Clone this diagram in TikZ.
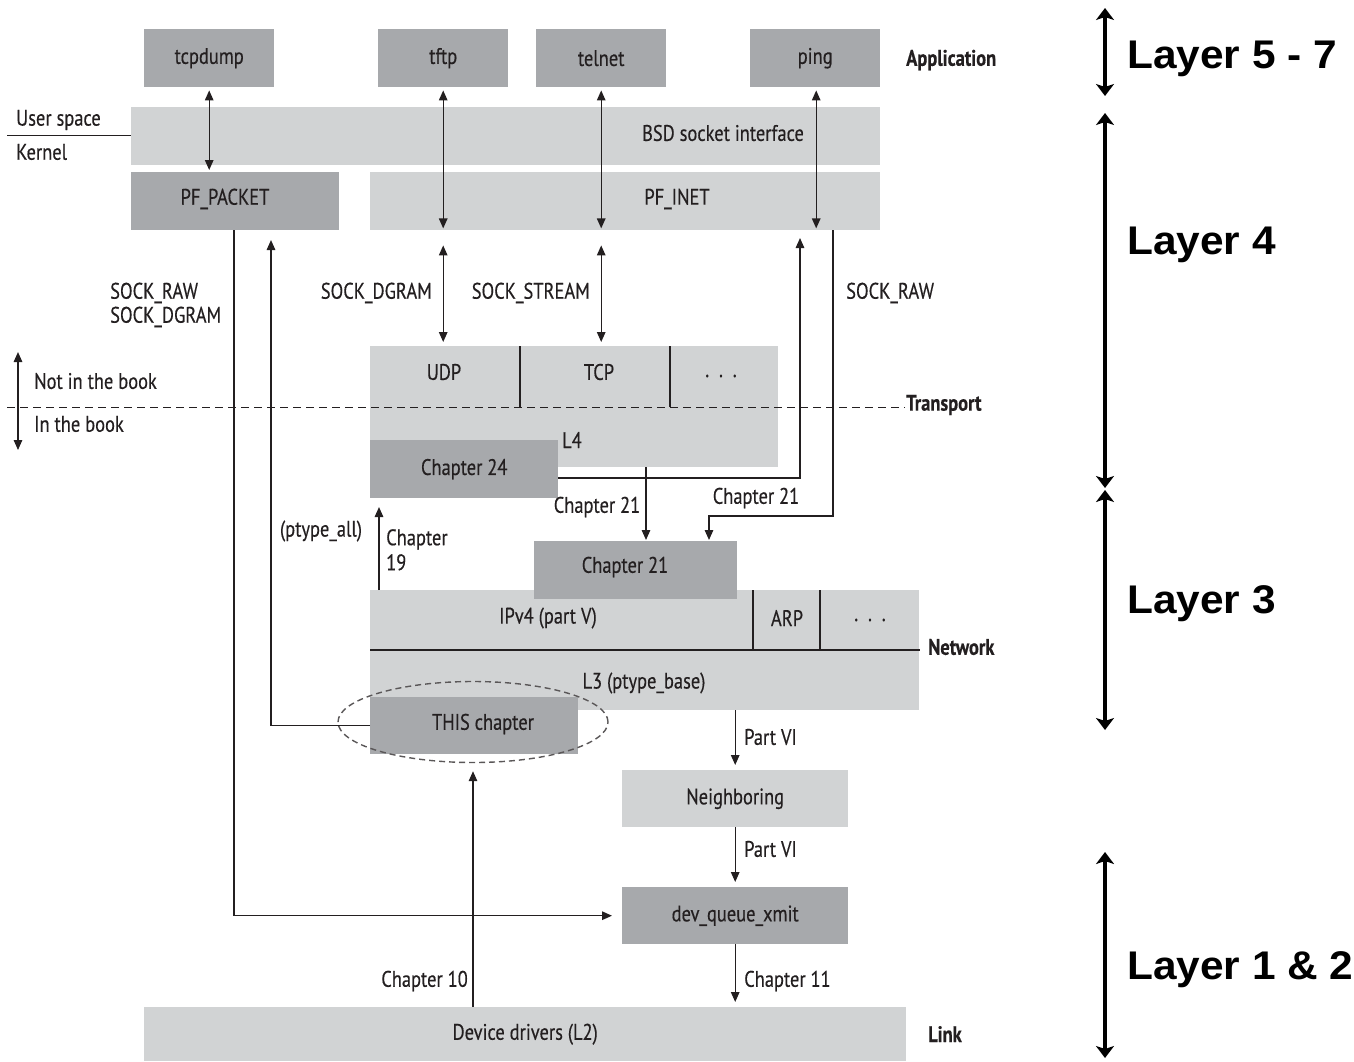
\documentclass[tikz,border=0pt]{standalone}
\usepackage{fontspec}
\setmainfont{PT Sans}[FakeStretch=0.82,FakeBold=0.35]
\newfontfamily\layerfont{Liberation Sans}[FakeStretch=1.06]
\usetikzlibrary{arrows.meta,calc,shapes.geometric}
\definecolor{dgray}{HTML}{A7A9AC}
\definecolor{lgray}{HTML}{D1D3D4}
\definecolor{tcol}{HTML}{231F20}
\tikzset{
  dbox/.style={fill=dgray, draw=none, inner sep=0pt, anchor=north west, text=tcol, font=\fontsize{22.5}{25}\selectfont},
  lbox/.style={fill=lgray, draw=none, inner sep=0pt, anchor=north west, text=tcol, font=\fontsize{22.5}{25}\selectfont},
  txt/.style={inner sep=0pt, text=tcol, font=\fontsize{22.5}{25}\selectfont},
  btxt/.style={inner sep=0pt, text=tcol, font=\fontsize{22.5}{25}\selectfont\bfseries},
  ln/.style={line width=1.4pt, draw=tcol},
  arr/.style={ln, -{Triangle[length=10pt,width=8.5pt]}},
  darr/.style={ln, {Triangle[length=10pt,width=8.5pt]}-{Triangle[length=10pt,width=8.5pt]}},
  layarr/.style={line width=4pt, draw=black, {Stealth[length=12pt,width=18pt,inset=3pt]}-{Stealth[length=12pt,width=18pt,inset=3pt]}},
  laytxt/.style={inner sep=0pt, anchor=west, font=\layerfont\bfseries\fontsize{40}{44}\selectfont}
}
\begin{document}
\begin{tikzpicture}[x=1pt,y=-1pt]
\useasboundingbox (0,0) rectangle (1354,1061);
% boxes
\node[dbox, minimum width=130pt, minimum height=58pt] (tcpdump) at (144,29) {tcpdump};
\node[dbox, minimum width=130pt, minimum height=58pt] (tftp) at (378,29) {tftp};
\node[dbox, minimum width=130pt, minimum height=58pt] (telnet) at (536,29) {telnet};
\node[dbox, minimum width=130pt, minimum height=58pt] (ping) at (750,29) {ping};
\node[lbox, minimum width=749pt, minimum height=58pt] (bsd) at (131,107) {};
\node[dbox, minimum width=208pt, minimum height=58pt] (pfpacket) at (131,172) {};
\node[lbox, minimum width=510pt, minimum height=58pt] (pfinet) at (370,172) {};
\node[lbox, minimum width=408pt, minimum height=121pt] (trans) at (370,346) {};
\node[dbox, minimum width=188pt, minimum height=58pt] (ch24) at (370,440) {Chapter 24};
\node[lbox, minimum width=549pt, minimum height=120pt] (net) at (370,590) {};
\node[dbox, minimum width=203pt, minimum height=58pt] (ch21) at (534,541) {};
\node[dbox, minimum width=208pt, minimum height=57pt] (this) at (370,697) {};
\node[lbox, minimum width=226pt, minimum height=57pt] (neigh) at (622,770) {Neighboring};
\node[dbox, minimum width=226pt, minimum height=57pt] (devq) at (622,887) {dev\_queue\_xmit};
\node[lbox, minimum width=762pt, minimum height=54pt] (devdrv) at (144,1007) {Device drivers (L2)};
% texts in boxes
\node[txt] (bsdt) at (723,133) {BSD socket interface};
\node[txt] (pfpackett) at (225,199) {PF\_PACKET};
\node[txt] (pfinett) at (677,199) {PF\_INET};
\node[txt] (udp) at (444,372) {UDP};
\node[txt] (tcp) at (599,372) {TCP};
\node[txt] (dots1) at (721,376) {.\ \ .\ \ .};
\node[txt] (l4) at (572,440) {L4};
\node[txt] (ch21t) at (625,567) {Chapter 21};
\node[txt] (ipv4) at (548,618) {IPv4 (part V)};
\node[txt] (arp) at (787,618) {ARP};
\node[txt] (dots2) at (870,620) {.\ \ .\ \ .};
\node[txt] (l3) at (644,683) {L3 (ptype\_base)};
\node[txt] (thist) at (483,724) {THIS chapter};
% dividers
\draw[ln] (520,346) -- (520,407);
\draw[ln] (670,346) -- (670,407);
\draw[ln] (753,590) -- (753,650);
\draw[ln] (820,590) -- (820,650);
\draw[ln] (370,650) -- (920,650);
% side labels
\coordinate (us) at (7,135);
\draw[ln, line width=1pt] (us) -- (us -| bsd.west);
\node[txt, anchor=west] (userspace) at (16,120) {User space};
\node[txt, anchor=west] (kernel) at (16,152) {Kernel};
\node[btxt, anchor=west] (app) at (906,60) {Application};
\node[txt, anchor=west] (sr1) at (110,293) {SOCK\_RAW};
\node[txt, anchor=west] (sd1) at (110,317) {SOCK\_DGRAM};
\node[txt, anchor=east] (sd2) at (432,293) {SOCK\_DGRAM};
\node[txt, anchor=east] (ss) at (590,293) {SOCK\_STREAM};
\node[txt, anchor=west] (sr2) at (846,293) {SOCK\_RAW};
\node[txt, anchor=west] (notbook) at (34,381) {Not in the book};
\node[txt, anchor=west] (inbook) at (34,424) {In the book};
\node[btxt, anchor=west] (transport) at (906,405) {Transport};
\node[txt] (c21a) at (597,507) {Chapter 21};
\node[txt] (c21b) at (756,498) {Chapter 21};
\node[txt] (ptall) at (321,531) {(ptype\_all)};
\node[txt, anchor=north west, align=left] (c19) at (386,529) {Chapter\\19};
\node[btxt, anchor=west] (network) at (928,647) {Network};
\node[txt, anchor=west] (pv1) at (744,737) {Part VI};
\node[txt, anchor=west] (pv2) at (744,849) {Part VI};
\node[txt, anchor=west] (c11) at (744,981) {Chapter 11};
\node[txt, anchor=east] (c10) at (468,981) {Chapter 10};
\node[btxt, anchor=west] (link) at (928,1034) {Link};
% dashed line
\coordinate (dl1) at (7,407);
\coordinate (dl2) at (905,407);
\draw[ln, line width=1pt, dash pattern=on 8pt off 5pt] (dl1) -- (dl2);
% ellipse
\node[draw=tcol!75, line width=1.4pt, dash pattern=on 6pt off 4pt, ellipse, minimum width=270pt, minimum height=81pt, inner sep=0pt] (ell) at (473,722) {};
% connectors
\draw[darr] ($(tcpdump.south)+(0,3)$) -- ($(tcpdump.south |- pfpacket.north)+(0,-2)$);
\draw[darr] ($(tftp.south)+(0,3)$) -- ($(tftp.south |- pfinet.south)+(0,-2)$);
\draw[darr] ($(telnet.south)+(0,3)$) -- ($(telnet.south |- pfinet.south)+(0,-2)$);
\draw[darr] ($(ping.south)+(1,3)$) -- ($(ping.south |- pfinet.south)+(1,-2)$);
\draw[darr] ($(tftp.south |- pfinet.south)+(0,15)$) -- ($(tftp.south |- trans.north)+(0,-4)$);
\draw[darr] ($(telnet.south |- pfinet.south)+(0,15)$) -- ($(telnet.south |- trans.north)+(0,-4)$);
\coordinate (pp) at (234,230);
\draw[arr, shorten >=10pt] (pp) |- (devq.west);
\coordinate (up1) at (271,240);
\draw[arr] (this.west) -| (up1);
\coordinate (c24r) at (558,478);
\coordinate (up2) at (800,238);
\draw[arr] (c24r) -| (up2);
\coordinate (r1) at (833,230);
\coordinate (r2) at (709,516);
\draw[arr, shorten >=1pt] (r1) |- (r2) -- (r2 |- ch21.north);
\coordinate (l4d) at (646,467);
\draw[arr, shorten >=1pt] (l4d) -- (l4d |- ch21.north);
\coordinate (c19s) at (379,590);
\coordinate (c19e) at (379,507);
\draw[arr] (c19s) -- (c19e);
\coordinate (bk1) at (18,352);
\coordinate (bk2) at (18,450);
\draw[darr] (bk1) -- (bk2);
\coordinate (c10s) at (473,1007);
\draw[arr, shorten >=8pt] (c10s) -- (c10s |- ell.south);
\draw[arr, shorten >=5pt] (net.south -| neigh.north) -- (neigh.north);
\draw[arr, shorten >=5pt] (neigh.south) -- (devq.north);
\draw[arr, shorten >=5pt] (devq.south) -- (devdrv.north -| devq.south);
% layer arrows
\coordinate (a1) at (1105,8); \coordinate (a2) at (1105,96);
\coordinate (b1) at (1105,113); \coordinate (b2) at (1105,488);
\coordinate (e1) at (1105,490); \coordinate (e2) at (1105,730);
\coordinate (f1) at (1105,852); \coordinate (f2) at (1105,1058);
\draw[layarr] (a1) -- (a2);
\draw[layarr] (b1) -- (b2);
\draw[layarr] (e1) -- (e2);
\draw[layarr] (f1) -- (f2);
\node[laytxt] (lay57) at (1127,59) {Layer 5 - 7};
\node[laytxt] (lay4) at (1127,245) {Layer 4};
\node[laytxt] (lay3) at (1127,604) {Layer 3};
\node[laytxt] (lay12) at (1127,970) {Layer 1 \& 2};
\end{tikzpicture}
\end{document}
